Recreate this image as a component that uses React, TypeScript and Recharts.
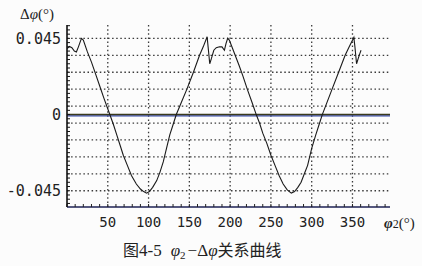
import React from 'react';
import { LineChart, Line, XAxis, YAxis, ReferenceLine } from 'recharts';

const phi2 = [
  0, 3, 6, 9, 11.5, 14, 17.7, 20, 25, 30, 35, 40, 45, 52.5, 57, 61, 65, 69, 74, 79, 85, 90, 94, 97.5,
  101, 105, 110, 114, 118, 122, 126, 130, 134, 140, 147, 155, 162.5, 167, 171.8, 173, 175, 177, 180,
  183, 187, 190, 193, 195, 197, 199, 203, 207, 211, 215.5, 221, 227, 232, 236, 240, 245, 250, 255,
  260, 265, 270, 275, 279, 283, 287, 291, 295, 300, 305, 309, 313, 319, 325, 333, 341, 346, 351.7,
  353, 355, 357, 359, 360.5,
];
const dPhi = [
  0.039, 0.0402, 0.0395, 0.0375, 0.037, 0.04, 0.045, 0.044, 0.037, 0.031, 0.024, 0.017, 0.01, 0,
  -0.006, -0.012, -0.018, -0.024, -0.03, -0.036, -0.041, -0.044, -0.0455, -0.0464,
  -0.0455, -0.043, -0.039, -0.034, -0.028, -0.02, -0.012, -0.006, 0, 0.007, 0.015, 0.025, 0.035,
  0.04, 0.046, 0.04, 0.03, 0.033, 0.038,
  0.0395, 0.04, 0.04, 0.038, 0.042, 0.045, 0.044, 0.039, 0.034, 0.029, 0.023, 0.015, 0.007, 0,
  -0.005, -0.011, -0.017, -0.024, -0.03,
  -0.036, -0.041, -0.0445, -0.0464, -0.0455, -0.043, -0.04, -0.035, -0.03, -0.02, -0.012, -0.006,
  0, 0.0075, 0.015, 0.025, 0.035, 0.04, 0.0455,
  0.04, 0.03, 0.033, 0.036, 0.038,
];

const xMinorTicks = [
  0, 10, 20, 30, 40, 50, 60, 70, 80, 90, 100, 110, 120, 130, 140, 150, 160, 170, 180, 190, 200,
  210, 220, 230, 240, 250, 260, 270, 280, 290, 300, 310, 320, 330, 340, 350, 360, 370, 380, 390,
];
const xLabelTicks = [50, 100, 150, 200, 250, 300, 350];
const yMinorTicks = Array.from({ length: 43 }, (_, i) => Math.round((-0.0525 + i * 0.0025) * 10000) / 10000);
const yLabelTicks = [-0.045, 0, 0.045];
const hGrid = [-0.045, -0.035, -0.025, -0.015, -0.005, 0.005, 0.015, 0.025, 0.035, 0.045];
const vGrid = [50, 100, 150, 200, 250, 300, 350];

const data = phi2.map((p, i) => ({ phi2: p, dphi: dPhi[i] }));

const monoFont = "'DejaVu Sans Mono', 'Liberation Mono', monospace";
const serifFont = "'Liberation Serif', 'DejaVu Serif', 'Noto Sans CJK SC', serif";
const cjkFont = "'Noto Sans CJK SC', sans-serif";

export default function App() {
  return (
    <div style={{ position: 'absolute', left: 0, top: 0, width: 422, height: 266, background: '#fcfcfc' }}>
      <LineChart
        width={422}
        height={266}
        data={data}
        margin={{ top: 25, right: 32, bottom: 29, left: 7 }}
      >
        {hGrid.map((v) => (
          <ReferenceLine key={'h' + v} y={v} stroke="#3a3a3a" strokeWidth={1.3} strokeDasharray="1.5 2.6" />
        ))}
        {vGrid.map((v) => (
          <ReferenceLine key={'v' + v} x={v} stroke="#3a3a3a" strokeWidth={1.3} strokeDasharray="1.5 2.6" />
        ))}
        <ReferenceLine y={-0.0008} stroke="#3346a8" strokeWidth={1.2} />
        <ReferenceLine y={0} stroke="#3a3a1c" strokeWidth={1.6} />
        <XAxis
          type="number"
          dataKey="phi2"
          domain={[0, 396]}
          allowDataOverflow
          ticks={xMinorTicks}
          interval={0}
          height={30}
          tickSize={-3}
          tickMargin={13}
          stroke="#1e2256"
          axisLine={{ stroke: '#1e2256', strokeWidth: 1.5 }}
          tickLine={{ stroke: '#222', strokeWidth: 1 }}
          tick={{ fill: '#222', fontSize: 14, fontFamily: monoFont }}
          tickFormatter={(v: number) => (xLabelTicks.includes(v) ? String(v) : '')}
        />
        <YAxis
          type="number"
          dataKey="dphi"
          domain={[-0.0546, 0.0529]}
          allowDataOverflow
          ticks={yMinorTicks}
          interval={0}
          width={60}
          tickSize={-3}
          tickMargin={9}
          axisLine={{ stroke: '#111', strokeWidth: 1.6 }}
          tickLine={{ stroke: '#111', strokeWidth: 1 }}
          tick={{ fill: '#222', fontSize: 15, fontFamily: monoFont }}
          tickFormatter={(v: number) => (yLabelTicks.includes(v) ? String(v) : '')}
        />
        <Line
          type="linear"
          dataKey="dphi"
          stroke="#1a1a1a"
          strokeWidth={1.1}
          dot={false}
          isAnimationActive={false}
        />
      </LineChart>
      <svg width={422} height={266} style={{ position: 'absolute', left: 0, top: 0, pointerEvents: 'none' }}>
        <text x={20} y={19} fontSize={15} fill="#222" fontFamily={serifFont}>
          Δ<tspan fontStyle="italic">φ</tspan>(°)
        </text>
        <text x={384} y={228} fontSize={15} fill="#222" fontFamily={serifFont}>
          <tspan fontStyle="italic" fontWeight="bold">φ</tspan>
          <tspan fontSize={12}>2</tspan>
          <tspan>(°)</tspan>
        </text>
        <text x={123} y={256} fontSize={17} fill="#222" fontFamily={serifFont}>
          <tspan fontFamily={cjkFont} fontSize={16}>图</tspan>
          <tspan>4-5</tspan>
          <tspan dx={9} fontStyle="italic">φ</tspan>
          <tspan fontSize={11} dy={3}>2</tspan>
          <tspan dy={-3} dx={2}>−Δ</tspan>
          <tspan fontStyle="italic">φ</tspan>
          <tspan fontFamily={cjkFont} fontSize={16}>关系曲线</tspan>
        </text>
      </svg>
    </div>
  );
}
